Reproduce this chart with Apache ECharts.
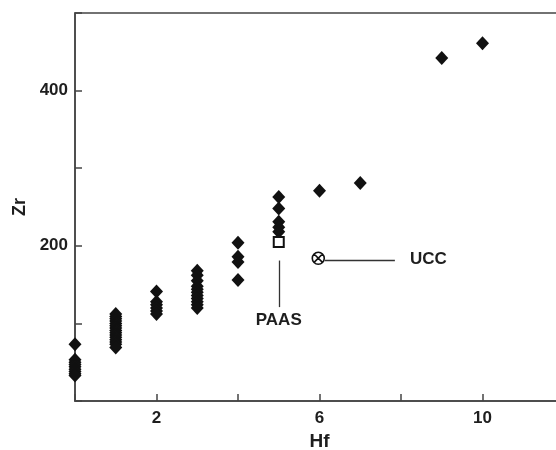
<!DOCTYPE html>
<html>
<head>
<meta charset="utf-8">
<script src="https://cdn.jsdelivr.net/npm/echarts@6/dist/echarts.min.js"></script>
<style>
  html, body { margin: 0; padding: 0; background: #fff; }
  #chart { width: 556px; height: 450px; }
</style>
</head>
<body>
<div id="chart"></div>
<script>
// Hf (ppm) and Zr (ppm) of the sample suite, one row per Hf value
const hfValues = [0, 1, 2, 3, 4, 5, 6, 7, 9, 10];
const zrByHf = [
  [73, 53, 50, 47, 44, 41, 38, 35, 33],
  [112, 109, 106, 103, 100, 97, 94, 91, 88, 85, 82, 79, 76, 73, 69],
  [141, 128, 124, 120, 116, 112],
  [168, 162, 155, 148, 144, 140, 136, 132, 128, 124, 120],
  [204, 186, 179, 156],
  [263, 248, 231, 224, 218],
  [271],
  [281],
  [442],
  [461]
];

// Reference compositions
const paas = [5, 205];
const ucc = [5.97, 184];

// Axis ticks shown with labels
const xTickLabels = [2, 6, 10];
const yTickLabels = [200, 400];

const samplePoints = [];
hfValues.forEach((hf, i) => zrByHf[i].forEach(zr => samplePoints.push([hf, zr])));

const ink = '#1e1e1e';
const labelFont = { fontFamily: 'Liberation Sans, Arial, sans-serif', fontWeight: 'bold', color: ink };

const chart = echarts.init(document.getElementById('chart'));
chart.setOption({
  animation: false,
  grid: {
    left: 75, top: 13, bottom: 49, right: -8,
    outerBoundsMode: 'none', containLabel: false,
    show: true, borderColor: '#444', borderWidth: 1.5
  },
  xAxis: {
    type: 'value', min: 0, max: 12, interval: 2,
    name: 'Hf', nameLocation: 'middle', nameGap: 30,
    nameTextStyle: Object.assign({ fontSize: 19 }, labelFont),
    axisLine: { lineStyle: { color: '#444', width: 1.5 } },
    axisTick: { inside: true, length: 7, lineStyle: { color: '#444', width: 1.5 } },
    axisLabel: Object.assign({
      fontSize: 17, margin: 9,
      formatter: v => xTickLabels.includes(v) ? String(v) : ''
    }, labelFont),
    splitLine: { show: false }
  },
  yAxis: {
    type: 'value', min: 0, max: 500, interval: 100,
    name: 'Zr', nameLocation: 'middle', nameGap: 46,
    nameTextStyle: Object.assign({ fontSize: 18 }, labelFont),
    axisLine: { lineStyle: { color: '#444', width: 1.5 } },
    axisTick: { inside: true, length: 7, lineStyle: { color: '#444', width: 1.5 } },
    axisLabel: Object.assign({
      fontSize: 17, margin: 7,
      formatter: v => yTickLabels.includes(v) ? String(v) : ''
    }, labelFont),
    splitLine: { show: false }
  },
  series: [
    {
      name: 'Samples', type: 'scatter',
      symbol: 'diamond', symbolSize: [13, 14],
      itemStyle: { color: '#111', opacity: 1 },
      data: samplePoints, z: 3
    },
    {
      name: 'PAAS', type: 'scatter',
      symbol: 'rect', symbolSize: 10,
      itemStyle: { color: '#fff', borderColor: '#111', borderWidth: 2, opacity: 1 },
      data: [paas], z: 4,
      markLine: {
        silent: true, symbol: 'none',
        lineStyle: { color: '#333', width: 1.3, type: 'solid' },
        label: Object.assign({ show: true, position: 'end', formatter: 'PAAS', fontSize: 17, distance: 5 }, labelFont),
        data: [[{ coord: [paas[0], 181] }, { coord: [paas[0], 121] }]]
      }
    },
    {
      name: 'UCC', type: 'scatter',
      symbol: 'path://M0,-10A10,10,0,1,1,0,10A10,10,0,1,1,0,-10ZM-7,-7L7,7M7,-7L-7,7',
      symbolSize: 12,
      itemStyle: { color: 'none', borderColor: '#111', borderWidth: 1.6, opacity: 1 },
      data: [ucc], z: 4,
      markLine: {
        silent: true, symbol: 'none',
        lineStyle: { color: '#333', width: 1.3, type: 'solid' },
        label: Object.assign({ show: true, position: 'end', formatter: 'UCC', fontSize: 17, distance: 15 }, labelFont),
        data: [[{ coord: [6.13, 182] }, { coord: [7.85, 182] }]]
      }
    }
  ]
});
</script>
</body>
</html>
